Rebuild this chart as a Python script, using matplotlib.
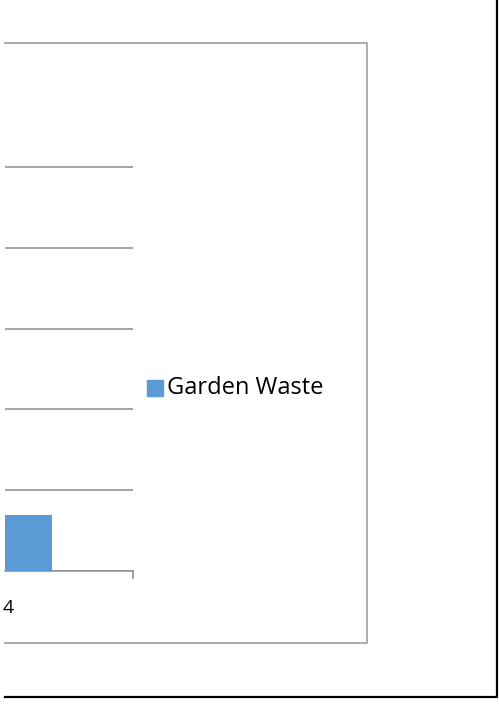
import matplotlib.pyplot as plt
from matplotlib.lines import Line2D
from matplotlib.patches import Rectangle

# data (only a fragment of the chart is visible)
categories = ["4"]
series_name = "Garden Waste"
values = [0.69]
y_ticks = [0, 1, 2, 3, 4, 5]

W, H = 499, 704
BAR_COLOR = "#5B9BD5"
GRID_COLOR = "#8C8C8C"
FONT = "Open Sans"


def fx(px):
    return px / W


def fy(py):
    return 1 - py / H


fig = plt.figure(figsize=(W / 100, H / 100), dpi=100)

# plot area: x 5..133 px, y 160..571 px
ax = fig.add_axes([fx(5), fy(571), fx(133) - fx(5), fy(160) - fy(571)])
ax.bar([0], values, width=0.4, color=BAR_COLOR, zorder=3)
ax.set_xlim(0.026, 0.5)
ax.set_ylim(0, 5 + 7 / 81)
ax.set_yticks(y_ticks)
ax.yaxis.grid(True, color=GRID_COLOR, linewidth=1.1)
ax.set_axisbelow(True)
for s in ["top", "right", "left"]:
    ax.spines[s].set_visible(False)
ax.spines["bottom"].set_color(GRID_COLOR)
ax.spines["bottom"].set_linewidth(1.1)
ax.tick_params(axis="y", left=False, labelleft=False)
ax.set_xticks([0.5])
ax.set_xticklabels([""])
ax.tick_params(axis="x", length=6, width=1.1, color=GRID_COLOR)
ax.text(0.038, -0.09, categories[0], transform=ax.get_xaxis_transform(),
        ha="center", va="center", fontsize=14, family=FONT, clip_on=False)

# legend
fig.patches.append(Rectangle((fx(147), fy(396)), fx(16), 16 / H,
                             transform=fig.transFigure, color=BAR_COLOR))
fig.text(fx(167), fy(388), series_name, ha="left", va="center",
         fontsize=17, family=FONT)

# chart area border (gray)
border = dict(color="#A0A0A0", linewidth=1.2, transform=fig.transFigure)
fig.lines.append(Line2D([fx(5), fx(367), fx(367), fx(5)],
                        [fy(43), fy(43), fy(643), fy(643)], **border))

# outer frame (black)
frame = dict(color="black", linewidth=1.6, transform=fig.transFigure)
fig.lines.append(Line2D([fx(497), fx(497), fx(5)],
                        [fy(0), fy(697), fy(697)], **frame))

fig.savefig("out.png", dpi=100)
